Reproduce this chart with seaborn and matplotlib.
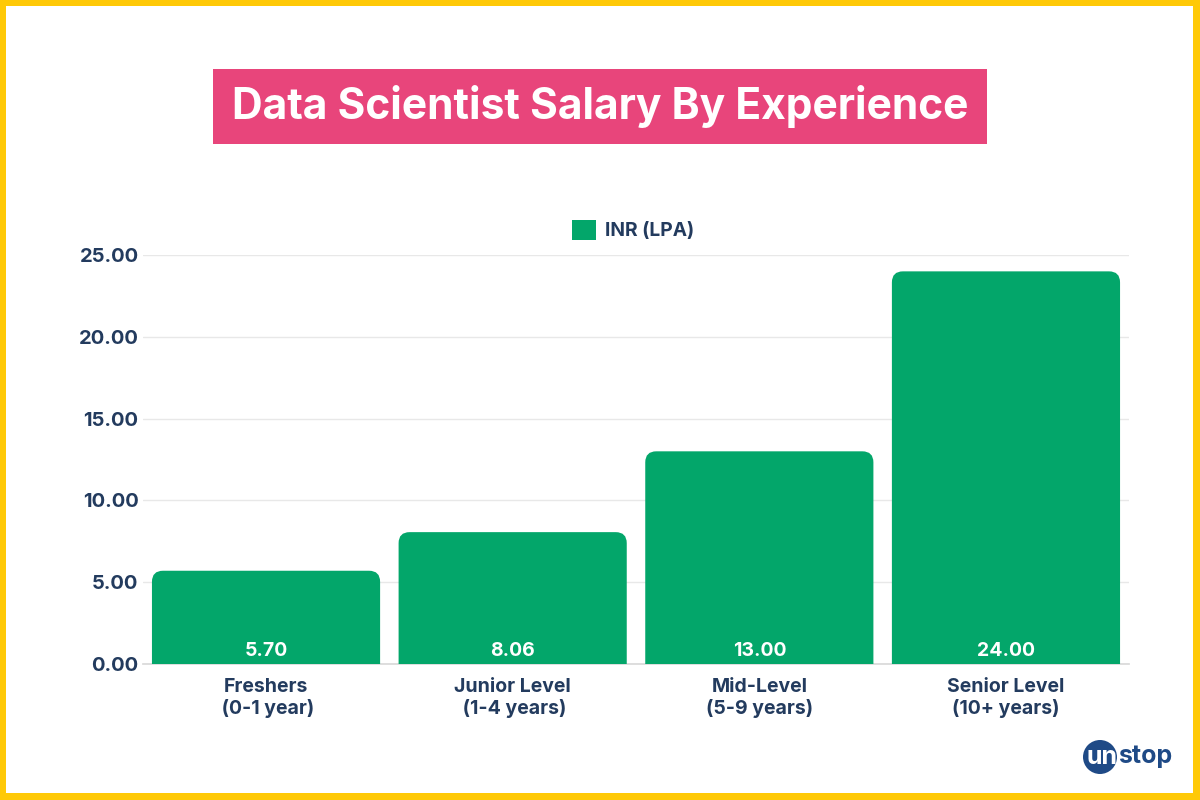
import matplotlib
matplotlib.use("Agg")
import matplotlib.pyplot as plt
import seaborn as sns
import pandas as pd
from matplotlib.patches import FancyBboxPatch, Rectangle, Circle, Patch

categories = ["Freshers\n (0-1 year)", "Junior Level\n (1-4 years)", "Mid-Level\n(5-9 years)", "Senior Level\n(10+ years)"]
values = [5.70, 8.06, 13.00, 24.00]
yticks = [0, 5, 10, 15, 20, 25]
series_name = "INR (LPA)"
title = "Data Scientist Salary By Experience"

GREEN = "#03a66a"
NAVY = "#233b5e"
PINK = "#e8457b"
YELLOW = "#ffc907"

sns.set_theme(style="white")
plt.rcParams["font.family"] = ["Inter", "DejaVu Sans"]

fig = plt.figure(figsize=(12, 8), dpi=100)
fig.patch.set_facecolor(YELLOW)
fig.patches.append(Rectangle((6/1200, 7/800), 1187/1200, 787/800, transform=fig.transFigure,
                             facecolor="white", edgecolor="none", zorder=-10))

ax = fig.add_axes([142.7/1200, 136/800, 986.6/1200, 409/800])
ax.set_facecolor("none")
df = pd.DataFrame({"cat": categories, "val": values})
sns.barplot(data=df, x="cat", y="val", color=GREEN, width=0.925, saturation=1, ax=ax, zorder=3)
ax.set_xlim(-0.5, 3.5)
ax.set_ylim(0, 25)

fig.canvas.draw()
# rounded top corners
px_x = (ax.transData.transform((1, 0))[0] - ax.transData.transform((0, 0))[0])
px_y = (ax.transData.transform((0, 1))[1] - ax.transData.transform((0, 0))[1])
r_px = 11
rx = r_px / px_x
aspect = px_x / px_y
for p in list(ax.patches):
    x0, w, h = p.get_x(), p.get_width(), p.get_height()
    p.remove()
    fb = FancyBboxPatch((x0, -2), w, h + 2,
                        boxstyle=f"round,pad=0,rounding_size={rx}",
                        mutation_aspect=aspect, facecolor=GREEN, edgecolor="none",
                        zorder=3, clip_on=True)
    ax.add_patch(fb)

for i, v in enumerate(values):
    ax.annotate(f"{v:.2f}", (i, 0), xytext=(0, 9.0), textcoords="offset points",
                ha="center", va="center", color="white", fontsize=14, fontweight="bold", zorder=5)

ax.set_yticks(yticks)
ax.set_yticklabels([f"{t:.2f}" for t in yticks])
ax.yaxis.grid(True, color="#e8e8e8", linewidth=1, zorder=0)
ax.set_axisbelow(True)
for s in ["top", "right", "left"]:
    ax.spines[s].set_visible(False)
ax.spines["bottom"].set_color("#d9d9d9")
ax.tick_params(axis="y", length=0, pad=3, labelsize=14.5, labelcolor=NAVY)
ax.tick_params(axis="x", length=0, pad=10, labelsize=14, labelcolor=NAVY)
for lab in ax.get_xticklabels() + ax.get_yticklabels():
    lab.set_fontweight("bold")
for lab in ax.get_xticklabels():
    lab.set_linespacing(1.2)
ax.set_xlabel("")
ax.set_ylabel("")

# legend
leg = fig.legend(handles=[Patch(facecolor=GREEN, edgecolor="none", label=series_name)],
                 loc="center", bbox_to_anchor=(633/1200, 1 - 230/800), frameon=False,
                 handlelength=1.25, handleheight=1.25, handletextpad=0.45,
                 prop={"weight": "bold", "size": 13.8})
for t in leg.get_texts():
    t.set_color(NAVY)

# title box
fig.patches.append(Rectangle((213/1200, 1 - 144/800), 774/1200, 75/800, transform=fig.transFigure,
                             facecolor=PINK, edgecolor="none"))
fig.text(600/1200, 1 - 107/800, title, ha="center", va="center", color="white",
         fontsize=30.6, fontweight="bold")

# logo
logo_ax = fig.add_axes([1080/1200, 1 - 778/800, 100/1200, 42/800])
logo_ax.set_xlim(0, 100)
logo_ax.set_ylim(0, 42)
logo_ax.set_aspect("equal")
logo_ax.axis("off")
logo_ax.add_patch(Circle((20, 21), 17, facecolor="#1f4a86", edgecolor="none"))
logo_ax.text(22, 21, "un", ha="center", va="center", color="white", fontsize=18, fontweight="bold")
logo_ax.text(38, 21, "stop", ha="left", va="center", color="#1f4a86", fontsize=18, fontweight="bold")

fig.savefig("out.png", dpi=100, facecolor=fig.get_facecolor())
